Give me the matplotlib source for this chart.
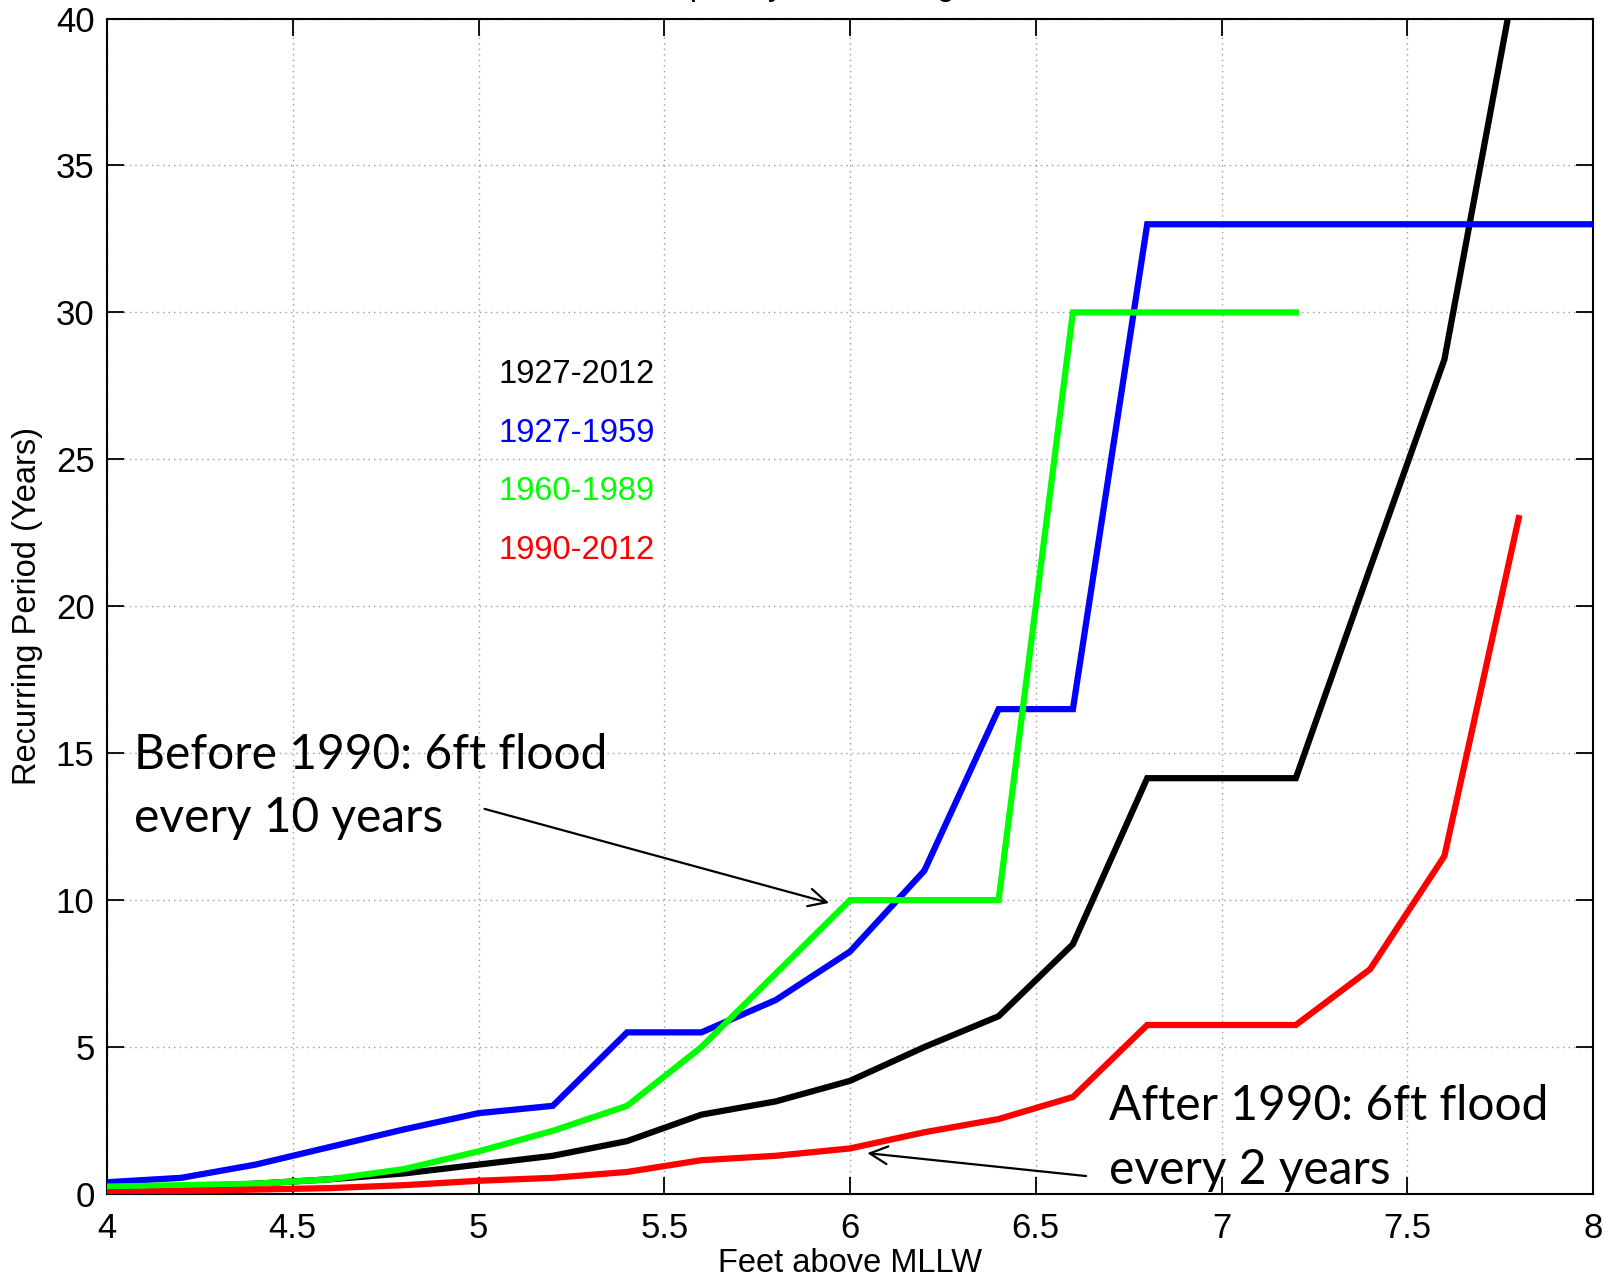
import matplotlib
matplotlib.use("Agg")
import matplotlib.pyplot as plt
from matplotlib.ticker import MultipleLocator

# ---- data ----
feet = [4.0, 4.2, 4.4, 4.6, 4.8, 5.0, 5.2, 5.4, 5.6, 5.8, 6.0, 6.2, 6.4, 6.6, 6.8,
        7.0, 7.2, 7.4, 7.6, 7.8, 8.0]
period_1927_2012 = [0.15, 0.25, 0.35, 0.5, 0.7, 1.0, 1.3, 1.8, 2.7, 3.15, 3.85, 5.0, 6.05,
                    8.5, 14.15, 14.15, 14.15, 21.3, 28.4, 42.0]
period_1927_1959 = [0.4, 0.55, 1.0, 1.6, 2.2, 2.75, 3.0, 5.5, 5.5, 6.6, 8.25, 11.0, 16.5,
                    16.5, 33.0, 33.0, 33.0, 33.0, 33.0, 33.0, 33.0]
period_1960_1989 = [0.25, 0.3, 0.35, 0.5, 0.85, 1.45, 2.15, 3.0, 5.0, 7.5, 10.0, 10.0, 10.0,
                    30.0, 30.0, 30.0, 30.0]
period_1990_2012 = [0.05, 0.1, 0.15, 0.2, 0.3, 0.45, 0.55, 0.75, 1.15, 1.3, 1.55, 2.1, 2.55,
                    3.3, 5.75, 5.75, 5.75, 7.65, 11.5, 23.0]

series_labels = ["1927-2012", "1927-1959", "1960-1989", "1990-2012"]
series_colors = ["#000000", "#0000ff", "#00ff00", "#ff0000"]
series_values = [period_1927_2012, period_1927_1959, period_1960_1989, period_1990_2012]

title_text = "Frequency of Flooding"
xlabel_text = "Feet above MLLW"
ylabel_text = "Recurring Period (Years)"
note1 = ["Before 1990: 6ft flood", "every 10 years"]
note2 = ["After 1990: 6ft flood", "every 2 years"]

plt.rcParams["font.family"] = ["Liberation Sans", "DejaVu Sans"]

fig = plt.figure(figsize=(16.14, 12.8), dpi=100)
ax = fig.add_axes([0.0663, 0.0672, 0.987 - 0.0663, 0.9855 - 0.0672])

for vals, col in zip(series_values, series_colors):
    ax.plot(feet[:len(vals)], vals, color=col, lw=4.5, solid_joinstyle="miter",
            zorder=3)

ax.set_xlim(4, 8)
ax.set_ylim(0, 40)
ax.xaxis.set_major_locator(MultipleLocator(0.5))
ax.yaxis.set_major_locator(MultipleLocator(5))
ax.set_xticklabels([f"{v:g}" for v in ax.get_xticks()])
ax.grid(True, color="#999999", linestyle=(0, (1, 3)), lw=1.0, zorder=0)
ax.tick_params(direction="in", length=12, width=1.3, top=True, right=True,
               labelsize=25, pad=9)
ax.tick_params(axis="x", pad=13)
for s in ax.spines.values():
    s.set_linewidth(1.5)

ax.set_xlabel(xlabel_text, fontsize=23.5, labelpad=2)
ax.set_ylabel(ylabel_text, fontsize=23.5, labelpad=9)

# series labels as coloured text
legend_y = [27.6, 25.6, 23.6, 21.6]
for lab, col, yy in zip(series_labels, series_colors, legend_y):
    ax.text(5.055, yy, lab, color=col, fontsize=23.5, va="baseline", ha="left")

# annotations
afont = ["Lato", "DejaVu Sans"]
asize = 34.5
ax.text(4.072, 14.47, note1[0], fontsize=asize, family=afont, va="baseline", zorder=5)
ax.text(4.072, 12.33, note1[1], fontsize=asize, family=afont, va="baseline", zorder=5)
ax.annotate("", xy=(5.951, 9.88), xytext=(5.009, 13.13),
            arrowprops=dict(arrowstyle="->", lw=1.6, color="black", mutation_scale=32))

ax.text(6.698, 2.52, note2[0], fontsize=asize, family=afont, va="baseline", zorder=5)
ax.text(6.698, 0.35, note2[1], fontsize=asize, family=afont, va="baseline", zorder=5,
        clip_on=False)
ax.annotate("", xy=(6.039, 1.40), xytext=(6.643, 0.6),
            arrowprops=dict(arrowstyle="->", lw=1.6, color="black", mutation_scale=32))

# title (cut off at the top of the image in the reference, only descenders show)
fig.text(630 / 1614, 1 + 5 / 1280, title_text, fontsize=23.5, ha="left", va="baseline")

fig.savefig("out.png", dpi=100)
